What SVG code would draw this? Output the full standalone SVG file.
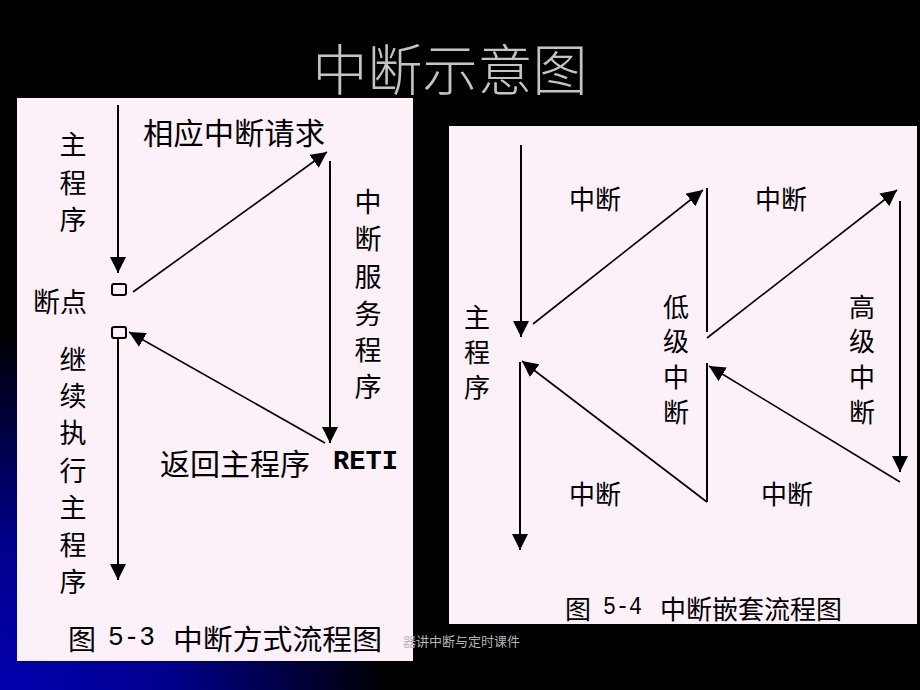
<svg xmlns="http://www.w3.org/2000/svg" width="920" height="690" viewBox="0 0 920 690">
<defs>
<radialGradient id="bg" gradientUnits="userSpaceOnUse" cx="0" cy="720" r="390">
<stop offset="0" stop-color="#0000b4"/>
<stop offset="0.45" stop-color="#00008c"/>
<stop offset="1" stop-color="#000000"/>
</radialGradient>
<marker id="ah" markerUnits="userSpaceOnUse" markerWidth="16" markerHeight="16" refX="16" refY="8" orient="auto">
<path d="M0,0 L16,8 L0,16 z" fill="#000"/>
</marker>
<style>
.panel{fill:#fcf0f9}
.ln{stroke:#000;stroke-width:2;fill:none}
.dg{stroke:#000;stroke-width:1.6;fill:none}
.arr{marker-end:url(#ah)}
.t{font-family:"Noto Sans CJK SC","Noto Sans",sans-serif;fill:#000;dominant-baseline:central}
.l{font-size:27px}
.r{font-size:26px}
.m{font-family:"Liberation Mono",monospace;font-weight:bold;fill:#000;dominant-baseline:central}
.n{font-family:"Liberation Mono",monospace;font-weight:normal;fill:#000;dominant-baseline:central}
.c{text-anchor:middle}
</style>
</defs>
<rect width="920" height="690" fill="#000"/>
<rect width="920" height="690" fill="url(#bg)"/>
<text x="450" y="66" text-anchor="middle" dominant-baseline="central" font-family="'Noto Sans CJK SC',sans-serif" font-weight="300" font-size="55" fill="#c4c4c4">中断示意图</text>

<g id="panel-left"><rect class="panel" x="17" y="98" width="396" height="563"/></g>
<g id="panel-right"><rect class="panel" x="449" y="126" width="468" height="498"/></g>

<g id="connectors">
<line class="ln arr" x1="118" y1="105" x2="118" y2="273"/>
<line class="ln arr" x1="118" y1="338" x2="118" y2="580"/>
<line class="dg arr" x1="133" y1="292" x2="327" y2="152"/>
<line class="ln arr" x1="330" y1="161" x2="330" y2="443"/>
<line class="dg arr" x1="325" y1="443" x2="129" y2="332"/>

<line class="ln arr" x1="521" y1="145" x2="521" y2="337"/>
<line class="dg arr" x1="533" y1="324" x2="703" y2="190"/>
<line class="ln" x1="707" y1="188" x2="707" y2="332"/>
<line class="dg arr" x1="707" y1="338" x2="897" y2="190"/>
<line class="ln arr" x1="900" y1="201" x2="900" y2="472"/>
<line class="dg arr" x1="900" y1="482" x2="709" y2="366"/>
<line class="ln" x1="707" y1="363" x2="707" y2="502"/>
<line class="dg arr" x1="707" y1="502" x2="522" y2="361"/>
<line class="ln arr" x1="520" y1="362" x2="520" y2="550"/>
</g>

<g id="breakpoint-box"><rect x="112" y="284" width="14" height="11" rx="2" fill="none" stroke="#000" stroke-width="2"/></g>
<g id="resume-box"><rect x="112" y="327" width="14" height="11" rx="2" fill="none" stroke="#000" stroke-width="2"/></g>

<g id="left-labels">
<g id="main-program-label">
<text class="t l c" x="73" y="143">主</text><text class="t l c" x="73" y="181">程</text><text class="t l c" x="73" y="218">序</text>
</g>
<text class="t" x="143" y="131" font-size="30" textLength="182" lengthAdjust="spacingAndGlyphs">相应中断请求</text>
<text class="t c" x="60" y="300" font-size="27">断点</text>
<g id="isr-label">
<text class="t l c" x="368" y="200">中</text><text class="t l c" x="368" y="237">断</text><text class="t l c" x="368" y="275">服</text><text class="t l c" x="368" y="312">务</text><text class="t l c" x="368" y="348">程</text><text class="t l c" x="368" y="385">序</text>
</g>
<g id="continue-label">
<text class="t l c" x="73" y="358">继</text><text class="t l c" x="73" y="394">续</text><text class="t l c" x="73" y="431">执</text><text class="t l c" x="73" y="469">行</text><text class="t l c" x="73" y="506">主</text><text class="t l c" x="73" y="543">程</text><text class="t l c" x="73" y="580">序</text>
</g>
<text class="t" x="160" y="462" font-size="30" textLength="150" lengthAdjust="spacingAndGlyphs">返回主程序</text>
<text class="m" x="333" y="462" font-size="27" textLength="65" lengthAdjust="spacingAndGlyphs">RETI</text>
<text class="t" x="68" y="638" font-size="28">图</text>
<text class="n" x="108" y="638" font-size="27" textLength="47" lengthAdjust="spacingAndGlyphs">5-3</text>
<text class="t" x="173" y="638" font-size="28" textLength="209" lengthAdjust="spacingAndGlyphs">中断方式流程图</text>
</g>

<g id="right-labels">
<text class="t r c" x="595" y="197">中断</text>
<text class="t r c" x="781" y="197">中断</text>
<g id="main-program-label-2">
<text class="t r c" x="477" y="315">主</text><text class="t r c" x="477" y="350">程</text><text class="t r c" x="477" y="385">序</text>
</g>
<g id="low-level-label">
<text class="t r c" x="676" y="305">低</text><text class="t r c" x="676" y="339">级</text><text class="t r c" x="676" y="375">中</text><text class="t r c" x="676" y="410">断</text>
</g>
<g id="high-level-label">
<text class="t r c" x="862" y="305">高</text><text class="t r c" x="862" y="339">级</text><text class="t r c" x="862" y="375">中</text><text class="t r c" x="862" y="410">断</text>
</g>
<text class="t r c" x="595" y="492">中断</text>
<text class="t r c" x="787" y="492">中断</text>
<text class="t" x="565" y="607" font-size="26">图</text>
<text class="n" x="603" y="607" font-size="25" textLength="39" lengthAdjust="spacingAndGlyphs">5-4</text>
<text class="t" x="660" y="607" font-size="26" textLength="182" lengthAdjust="spacingAndGlyphs">中断嵌套流程图</text>
</g>

<text x="403" y="640" dominant-baseline="central" font-family="'Noto Sans CJK SC',sans-serif" font-size="13" fill="#b4b4b4">器讲中断与定时课件</text>
</svg>
